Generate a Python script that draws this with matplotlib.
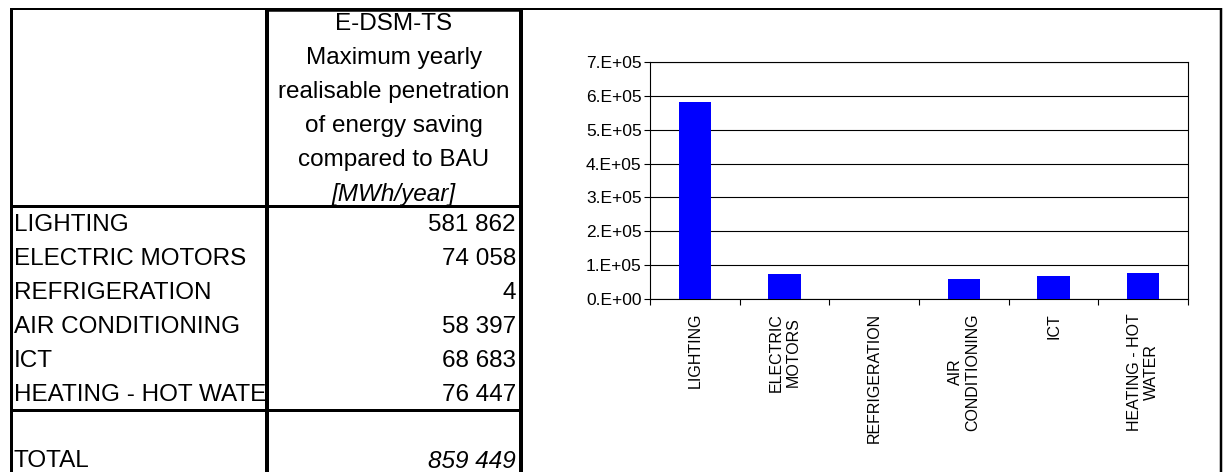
import matplotlib
matplotlib.use("Agg")
import matplotlib.pyplot as plt
import numpy as np
from matplotlib.patches import Rectangle
from matplotlib.ticker import FuncFormatter, FixedLocator

plt.rcParams['font.family'] = ['Liberation Sans', 'DejaVu Sans']

# data
categories = ["LIGHTING", "ELECTRIC MOTORS", "REFRIGERATION",
              "AIR CONDITIONING", "ICT", "HEATING - HOT WATER"]
axis_labels = ["LIGHTING", "ELECTRIC\nMOTORS", "REFRIGERATION",
               "AIR\nCONDITIONING", "ICT", "HEATING - HOT\nWATER"]
savings = [581862, 74058, 4, 58397, 68683, 76447]   # MWh/year
total_saving = 859449
header_lines = ["E-DSM-TS", "Maximum yearly", "realisable penetration",
                "of energy saving", "compared to BAU", "[MWh/year]"]
yticks = [0, 1e5, 2e5, 3e5, 4e5, 5e5, 6e5, 7e5]

W, H = 1226, 472
fig = plt.figure(figsize=(W / 100, H / 100), dpi=100)

# background axes in pixel units for the table part
bg = fig.add_axes([0, 0, 1, 1])
bg.set_xlim(0, W)
bg.set_ylim(H, 0)
bg.axis('off')

def px(w):
    return w * 0.72   # pixel -> points at 100 dpi

def hline(y, x0, x1, w):
    bg.plot([x0, x1], [y, y], color='black', lw=px(w), solid_capstyle='butt')

def vline(x, y0, y1, w):
    bg.plot([x, x], [y0, y1], color='black', lw=px(w), solid_capstyle='butt')

# grid of the table
hline(9, 10, 1222, 2)
hline(9.5, 266, 522, 3.5)
vline(11, 8, H, 3)
vline(267, 8, H, 4)
vline(521, 8, H, 4)
vline(1221, 8, H, 2.5)
hline(206, 10, 522, 3)
hline(410, 10, 522, 3)

fs = 17.5
for i, line in enumerate(header_lines):
    style = 'italic' if line.startswith('[') else 'normal'
    bg.text(394, 24 + 34 * i, line, ha='center', va='center', fontsize=fs, style=style)

clip = Rectangle((10, 0), 255, H, transform=bg.transData)
for i, (name, v) in enumerate(zip(categories, savings)):
    y = 225 + 34 * i
    t = bg.text(14, y, name, ha='left', va='center', fontsize=fs, clip_on=True)
    t.set_clip_path(clip)
    bg.text(516, y, f"{v:,}".replace(",", " "), ha='right', va='center', fontsize=fs)

bg.text(14, 461, "TOTAL", ha='left', va='center', fontsize=fs)
bg.text(516, 461, f"{total_saving:,}".replace(",", " "), ha='right', va='center',
        fontsize=fs, style='italic')

# bar chart
ax = fig.add_axes([650 / W, (H - 299) / H, 538 / W, 237 / H])
x = np.arange(len(categories))
ax.bar(x, savings, width=0.36, color='#0000FF', zorder=3)
ax.set_xlim(-0.5, len(categories) - 0.5)
ax.set_ylim(0, 7e5)
ax.set_yticks(yticks)

def sci(v, pos):
    if v == 0:
        return "0.E+00"
    e = int(np.floor(np.log10(v)))
    return f"{v / 10 ** e:.0f}.E+{e:02d}"

ax.yaxis.set_major_formatter(FuncFormatter(sci))
ax.yaxis.grid(True, color='black', lw=0.8)
ax.set_axisbelow(True)
ax.set_xticks(x)
ax.set_xticklabels(axis_labels, rotation=90, va='top', ha='center',
                   multialignment='center', fontsize=11.5)
ax.xaxis.set_minor_locator(FixedLocator(np.arange(-0.5, len(categories), 1)))
ax.tick_params(axis='x', which='major', length=0, pad=10)
ax.tick_params(axis='x', which='minor', length=4, width=0.8, direction='out')
ax.tick_params(axis='y', length=4, width=0.8, pad=2, labelsize=12.5)
for s in ax.spines.values():
    s.set_color('black')
    s.set_linewidth(0.8)

fig.savefig("out.png", dpi=100)
